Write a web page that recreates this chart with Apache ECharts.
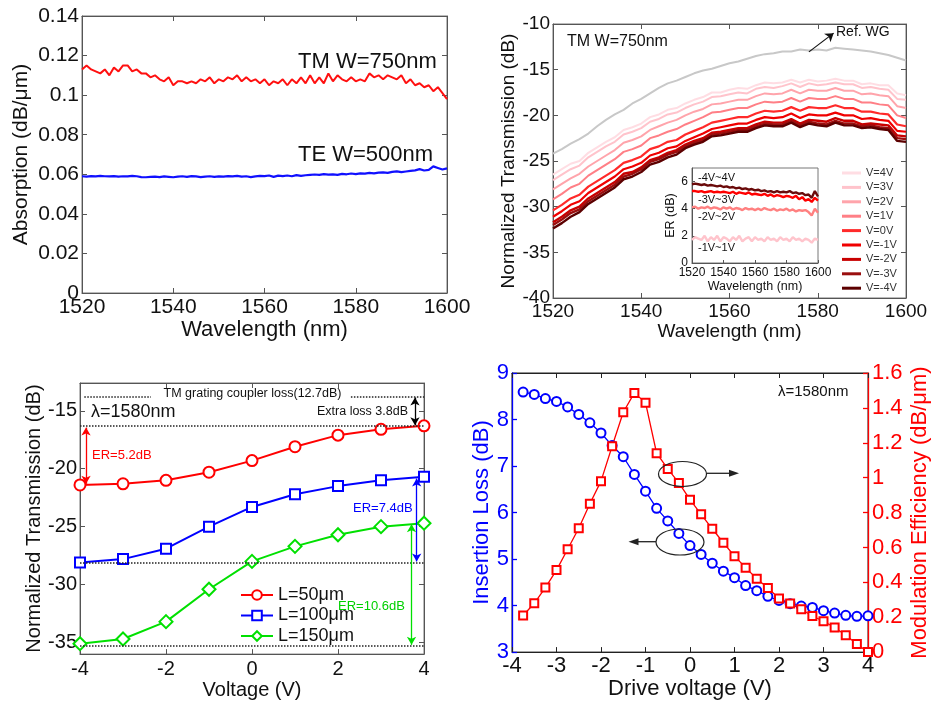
<!DOCTYPE html>
<html><head><meta charset="utf-8">
<script src="https://cdn.jsdelivr.net/npm/echarts@6/dist/echarts.min.js"></script>
<style>html,body{margin:0;padding:0;background:#fff}#c{width:932px;height:701px}</style>
</head><body><div id="c"></div>
<script>
const FONT = '"Liberation Sans", Arial, Helvetica, sans-serif';

// ---------- Panel A: absorption ----------
const wlA = [1520,1521,1522,1523,1524,1525,1526,1527,1528,1529,1530,1531,1532,1533,1534,1535,1536,1537,1538,1539,
1540,1541,1542,1543,1544,1545,1546,1547,1548,1549,1550,1551,1552,1553,1554,1555,1556,1557,1558,1559,
1560,1561,1562,1563,1564,1565,1566,1567,1568,1569,1570,1571,1572,1573,1574,1575,1576,1577,1578,1579,
1580,1581,1582,1583,1584,1585,1586,1587,1588,1589,1590,1591,1592,1593,1594,1595,1596,1597,1598,1599,1600];
const absTM = [0.113,0.115,0.113,0.112,0.111,0.113,0.110,0.114,0.112,0.115,
0.115,0.112,0.113,0.111,0.111,0.109,0.110,0.108,0.107,0.109,
0.105,0.107,0.107,0.106,0.107,0.106,0.108,0.107,0.109,0.106,
0.108,0.107,0.109,0.108,0.110,0.107,0.109,0.107,0.108,0.106,
0.108,0.105,0.107,0.106,0.108,0.105,0.108,0.106,0.109,0.106,
0.110,0.106,0.109,0.106,0.111,0.107,0.110,0.108,0.107,0.109,
0.107,0.108,0.107,0.111,0.109,0.110,0.108,0.110,0.109,0.108,
0.110,0.106,0.108,0.105,0.106,0.104,0.105,0.102,0.104,0.101,0.098];
const absTE = [0.0590,0.0588,0.0591,0.0589,0.0592,0.0590,0.0589,0.0591,0.0588,0.0590,
0.0589,0.0592,0.0590,0.0586,0.0585,0.0587,0.0588,0.0586,0.0589,0.0587,
0.0585,0.0588,0.0590,0.0587,0.0591,0.0589,0.0586,0.0588,0.0590,0.0587,
0.0589,0.0588,0.0591,0.0589,0.0592,0.0588,0.0590,0.0586,0.0589,0.0592,
0.0591,0.0594,0.0587,0.0593,0.0591,0.0594,0.0590,0.0596,0.0592,0.0595,
0.0597,0.0599,0.0597,0.0601,0.0598,0.0600,0.0597,0.0602,0.0600,0.0604,
0.0601,0.0605,0.0603,0.0607,0.0605,0.0608,0.0610,0.0607,0.0612,0.0615,
0.0611,0.0614,0.0617,0.0620,0.0626,0.0619,0.0622,0.0640,0.0632,0.0624,0.0630];

// ---------- Panel B: transmission vs wavelength ----------
const wlB = [1520,1522,1524,1526,1528,1530,1532,1534,1536,1538,1540,1542,1544,1546,1548,1550,1552,1554,1556,1558,
1560,1562,1564,1566,1568,1570,1572,1574,1576,1578,1580,1582,1584,1586,1588,1590,1592,1594,1596,1598,1600];
const refWG = [-24.2,-23.7,-23.1,-22.6,-22.0,-21.2,-20.5,-19.9,-19.4,-18.7,-18.2,-17.6,-17.0,-16.5,-16.2,-15.8,-15.4,-15.1,-14.9,-14.6,
-14.3,-14.1,-13.8,-13.5,-13.3,-13.2,-13.0,-13.0,-12.8,-12.9,-12.8,-12.9,-12.6,-12.7,-12.8,-12.9,-13.0,-13.2,-13.4,-13.7,-14.0];
const tV4 = [-26.5,-25.9,-25.3,-25.0,-24.1,-23.5,-22.9,-22.4,-21.6,-21.3,-20.9,-20.2,-19.9,-19.4,-19.2,-18.7,-18.3,-18.0,-17.5,-17.5,
-17.2,-17.0,-17.1,-16.7,-16.4,-16.5,-16.4,-16.1,-16.4,-16.1,-16.3,-16.2,-16.0,-16.2,-16.2,-16.6,-16.5,-16.7,-16.7,-17.6,-17.8];
const tV3 = [-27.1,-26.5,-25.9,-25.5,-24.6,-24.0,-23.4,-22.9,-22.1,-21.8,-21.4,-20.7,-20.4,-19.9,-19.7,-19.2,-18.8,-18.5,-18.0,-17.9,
-17.7,-17.5,-17.6,-17.1,-16.9,-17.0,-16.8,-16.5,-16.9,-16.5,-16.7,-16.6,-16.4,-16.6,-16.6,-17.0,-16.9,-17.1,-17.2,-18.2,-18.3];
const tV2 = [-28.1,-27.5,-26.9,-26.4,-25.6,-25.0,-24.4,-23.8,-23.0,-22.7,-22.3,-21.6,-21.2,-20.8,-20.5,-20.0,-19.6,-19.3,-18.8,-18.7,
-18.5,-18.3,-18.3,-17.9,-17.6,-17.7,-17.6,-17.2,-17.6,-17.2,-17.3,-17.3,-17.0,-17.3,-17.3,-17.7,-17.6,-17.8,-17.9,-19.0,-19.2];
const tV1 = [-29.2,-28.6,-27.9,-27.5,-26.6,-26.0,-25.4,-24.8,-24.0,-23.7,-23.3,-22.5,-22.2,-21.8,-21.5,-21.0,-20.6,-20.2,-19.7,-19.6,
-19.4,-19.2,-19.2,-18.8,-18.5,-18.6,-18.5,-18.1,-18.5,-18.1,-18.2,-18.2,-17.9,-18.2,-18.2,-18.6,-18.6,-18.8,-18.9,-20.0,-20.3];
const tV0 = [-30.4,-29.8,-29.1,-28.7,-27.8,-27.2,-26.6,-26.0,-25.2,-24.9,-24.5,-23.7,-23.4,-22.9,-22.7,-22.1,-21.7,-21.3,-20.8,-20.6,
-20.4,-20.2,-20.2,-19.8,-19.5,-19.6,-19.5,-19.1,-19.5,-19.1,-19.2,-19.2,-18.9,-19.2,-19.2,-19.6,-19.6,-19.8,-19.9,-21.0,-21.2];
const tVm1 = [-31.1,-30.5,-29.8,-29.4,-28.5,-27.9,-27.3,-26.7,-25.9,-25.6,-25.2,-24.4,-24.1,-23.6,-23.4,-22.8,-22.4,-22.0,-21.5,-21.3,
-21.1,-20.9,-20.9,-20.5,-20.2,-20.3,-20.2,-19.8,-20.3,-19.9,-20.0,-20.0,-19.7,-20.0,-20.0,-20.4,-20.3,-20.5,-20.6,-21.7,-21.8];
const tVm2 = [-31.7,-31.1,-30.4,-30.0,-29.1,-28.5,-27.9,-27.3,-26.4,-26.2,-25.7,-24.9,-24.6,-24.1,-23.8,-23.2,-22.8,-22.5,-21.9,-21.8,
-21.6,-21.4,-21.4,-21.0,-20.7,-20.8,-20.8,-20.4,-20.9,-20.5,-20.6,-20.7,-20.3,-20.6,-20.6,-21.0,-20.9,-21.0,-21.1,-22.2,-22.3];
const tVm3 = [-32.0,-31.4,-30.7,-30.3,-29.4,-28.8,-28.2,-27.6,-26.7,-26.4,-25.9,-25.1,-24.8,-24.3,-24.0,-23.4,-23.0,-22.7,-22.1,-22.0,
-21.8,-21.6,-21.6,-21.2,-20.9,-21.0,-21.0,-20.6,-21.1,-20.7,-20.9,-21.0,-20.6,-20.9,-20.9,-21.2,-21.1,-21.3,-21.4,-22.5,-22.6];
const tVm4 = [-32.4,-31.8,-31.1,-30.6,-29.7,-29.1,-28.5,-27.9,-27.0,-26.7,-26.2,-25.4,-25.1,-24.6,-24.3,-23.6,-23.2,-22.9,-22.3,-22.2,
-22.0,-21.8,-21.8,-21.4,-21.1,-21.2,-21.2,-20.8,-21.3,-20.9,-21.1,-21.2,-20.8,-21.1,-21.1,-21.4,-21.3,-21.5,-21.6,-22.8,-22.9];
const voltLabels = ['V=4V','V=3V','V=2V','V=1V','V=0V','V=-1V','V=-2V','V=-3V','V=-4V'];

// inset: extinction ratio
const erLabels = ['-4V~4V','-3V~3V','-2V~2V','-1V~1V'];
const er4 = [5.8,5.85,5.8,5.75,5.8,5.7,5.75,5.7,5.65,5.7,5.6,5.65,5.55,5.6,5.5,5.55,5.45,5.5,5.4,5.45,5.35,
5.4,5.3,5.35,5.25,5.3,5.2,5.3,5.2,5.25,5.2,5.3,5.15,5.2,5.1,5.15,5.0,5.05,4.8,5.3,4.9];
const er3 = [5.3,5.3,5.25,5.3,5.2,5.25,5.3,5.2,5.25,5.2,5.25,5.2,5.15,5.25,5.1,5.2,5.15,5.1,5.2,5.05,5.1,
5.05,5.0,5.1,4.95,5.05,4.9,5.0,4.95,4.85,4.95,4.9,4.8,4.95,4.7,4.85,4.6,4.7,4.5,4.8,4.6];
const er2 = [4.1,4.15,4.0,4.1,4.05,4.15,4.0,4.1,4.05,3.95,4.1,4.0,4.1,3.95,4.05,4.0,3.9,4.05,3.95,4.0,3.9,
4.0,3.9,4.05,3.95,3.9,4.0,3.85,3.95,3.9,4.0,3.85,3.95,3.8,3.9,3.85,3.9,3.75,3.5,4.0,3.7];
const er1 = [1.7,1.9,1.8,1.7,2.0,1.6,1.9,1.7,2.0,1.6,1.9,1.8,1.6,1.9,1.7,2.0,1.6,1.8,1.9,1.6,1.9,
1.7,1.8,1.6,1.9,1.7,1.8,1.6,1.9,1.7,1.8,1.6,1.9,1.7,1.8,1.6,1.8,1.7,1.5,1.8,1.7];

// ---------- Panel C: transmission vs voltage ----------
const voltC = [-4,-3,-2,-1,0,1,2,3,4];
const tL50  = [-21.4,-21.3,-21.0,-20.3,-19.3,-18.1,-17.1,-16.6,-16.3];
const tL100 = [-28.1,-27.8,-26.9,-25.0,-23.3,-22.2,-21.5,-21.0,-20.7];
const tL150 = [-35.1,-34.7,-33.2,-30.4,-28.0,-26.7,-25.7,-25.0,-24.7];
const lenLabels = ['L=50\u03bcm','L=100\u03bcm','L=150\u03bcm'];
const yTicksC = [-35,-30,-25,-20,-15];

// ---------- Panel D: insertion loss & modulation efficiency ----------
const voltD = [-3.75,-3.5,-3.25,-3,-2.75,-2.5,-2.25,-2,-1.75,-1.5,-1.25,-1,-0.75,-0.5,-0.25,0,
0.25,0.5,0.75,1,1.25,1.5,1.75,2,2.25,2.5,2.75,3,3.25,3.5,3.75,4];
const insLoss = [8.59,8.54,8.45,8.39,8.27,8.11,7.93,7.71,7.44,7.20,6.82,6.46,6.09,5.82,5.55,5.29,
5.10,4.91,4.74,4.60,4.43,4.32,4.20,4.11,4.04,3.99,3.96,3.89,3.84,3.79,3.77,3.78];
const modEff = [0.21,0.28,0.37,0.47,0.59,0.71,0.85,0.98,1.18,1.375,1.486,1.43,1.14,1.05,0.97,0.874,
0.79,0.707,0.627,0.55,0.484,0.421,0.367,0.307,0.278,0.246,0.207,0.177,0.141,0.097,0.046,0.0];

// ---------- helpers ----------
const zip = (xs, ys) => xs.map((x, i) => [x, ys[i]]);
function ax(o) {
  const lc = o.lc || '#555';
  const a = {
    type: 'value', gridIndex: o.g, position: o.pos, min: o.min, max: o.max,
    axisLine: {show: true, onZero: false, lineStyle: {color: lc, width: o.lw || 1}},
    axisTick: {show: true, inside: true, length: o.tl || 5, lineStyle: {color: lc, width: o.lw || 1}},
    axisLabel: {show: !!o.fs, fontSize: o.fs || 10, color: o.tc || '#111', margin: o.m || 4, fontFamily: FONT,
      formatter: v => String(v)},
    splitLine: {show: false},
    name: o.name || '', nameLocation: 'middle', nameGap: o.ng || 20,
    nameTextStyle: {fontSize: o.nfs || 12, color: o.tc || '#111', fontFamily: FONT}
  };
  if (o.iv != null) a.interval = o.iv;
  if (o.cv) { a.axisLabel.customValues = o.cv; a.axisTick.customValues = o.cv; }
  if (o.smax === false) a.axisLabel.showMaxLabel = false;
  if (o.z != null) a.z = o.z;
  return a;
}

const xAxis = [
  ax({g:0, pos:'bottom', min:1520, max:1600, iv:20, fs:21, m:4, name:'Wavelength (nm)', ng:23, nfs:22}),
  ax({g:0, pos:'top', min:1520, max:1600, iv:20}),
  ax({g:1, pos:'bottom', min:1520, max:1600, iv:20, fs:19, m:4, name:'Wavelength (nm)', ng:20, nfs:19}),
  ax({g:1, pos:'top', min:1520, max:1600, iv:20}),
  ax({g:2, pos:'bottom', min:1520, max:1600, iv:20, fs:12, m:4, name:'Wavelength (nm)', ng:16, nfs:12.5, tl:3, z:11}),
  ax({g:3, pos:'bottom', min:-4, max:4, iv:2, fs:20, m:5, name:'Voltage (V)', ng:24, nfs:20}),
  ax({g:3, pos:'top', min:-4, max:4, iv:2}),
  ax({g:4, pos:'bottom', min:-4, max:4, iv:1, fs:22, m:3, name:'Drive voltage (V)', ng:23, nfs:22, lc:'#222'}),
  ax({g:4, pos:'top', min:-4, max:4, iv:1, lc:'#222', tl:0})
];
const yAxis = [
  ax({g:0, pos:'left', min:0, max:0.14, iv:0.02, fs:21, m:3, name:'Absorption (dB/\u03bcm)', ng:50, nfs:21}),
  ax({g:0, pos:'right', min:0, max:0.14, iv:0.02}),
  ax({g:1, pos:'left', min:-40, max:-10, iv:5, fs:19, m:3, name:'Normalized Transmission (dB)', ng:34, nfs:19}),
  ax({g:1, pos:'right', min:-40, max:-10, iv:5}),
  ax({g:2, pos:'left', min:0, max:7, iv:2, fs:12, m:4, name:'ER (dB)', ng:15, nfs:12.5, tl:3, smax:false, z:11}),
  ax({g:3, pos:'left', min:-36, max:-12.6, cv:yTicksC, fs:20, m:3, name:'Normalized Transmission (dB)', ng:36, nfs:20}),
  ax({g:3, pos:'right', min:-36, max:-12.6, cv:yTicksC}),
  ax({g:4, pos:'left', min:3, max:9, iv:1, fs:22, m:3, name:'Insertion Loss (dB)', ng:19, nfs:22, lc:'#0000ff', tc:'#0000ff', lw:1.3}),
  ax({g:4, pos:'right', min:0, max:1.6, iv:0.2, fs:22, m:4, name:'Modulation Efficiency (dB/\u03bcm)', ng:41, nfs:22, lc:'#ff0000', tc:'#ff0000', lw:1.3})
];

const series = [];
// Panel A
series.push({type:'line', name:'TM W=750nm', xAxisIndex:0, yAxisIndex:0, data:zip(wlA, absTM), symbol:'none',
  lineStyle:{color:'#ff1010', width:2}, itemStyle:{color:'#ff1010'}});
series.push({type:'line', name:'TE W=500nm', xAxisIndex:0, yAxisIndex:0, data:zip(wlA, absTE), symbol:'none',
  lineStyle:{color:'#1010ff', width:2.2}, itemStyle:{color:'#1010ff'}});

// Panel B
series.push({type:'line', name:'Ref. WG', xAxisIndex:2, yAxisIndex:2, data:zip(wlB, refWG), symbol:'none',
  lineStyle:{color:'#c8c8c8', width:2}, itemStyle:{color:'#c8c8c8'},
  markLine:{silent:true, animation:false, symbol:'none', symbolSize:8, label:{show:false},
    lineStyle:{type:'solid', color:'#111', width:1.2},
    data:[[{coord:[1578,-13.05], symbol:'none'},{coord:[1583.6,-11.0], symbol:'arrow'}]]}});
const transB = [tV4, tV3, tV2, tV1, tV0, tVm1, tVm2, tVm3, tVm4];
const colorsB = ['#ffdde3','#ffc3cb','#ffa4ab','#ff7f86','#ff2a2a','#f00000','#c80000','#9a0e0e','#5c0000'];
const widthsB = [2,2,2,2,2.2,2.2,2.4,2.4,2.4];
transB.forEach((arr, i) => {
  series.push({type:'line', name:voltLabels[i], xAxisIndex:2, yAxisIndex:2, data:zip(wlB, arr), symbol:'none',
    lineStyle:{color:colorsB[i], width:widthsB[i]}, itemStyle:{color:colorsB[i]}});
});
// Inset
const erArr = [er4, er3, er2, er1];
const erColors = ['#6a0a0a','#ff0000','#ff8080','#ffc4cc'];
erArr.forEach((arr, i) => {
  series.push({type:'line', name:erLabels[i], xAxisIndex:4, yAxisIndex:4, data:zip(wlB, arr), symbol:'none', z:12,
    lineStyle:{color:erColors[i], width:2.4}, itemStyle:{color:erColors[i]}});
});

// Panel C
const dot = {type:'dotted', color:'#222', width:1.5};
function dbl(x, y1, y2, color) {
  const ls = {type:'solid', color:color, width:1.3};
  return [{coord:[x, y1], symbol:'arrow', lineStyle:ls}, {coord:[x, y2], symbol:'arrow', lineStyle:ls}];
}
series.push({type:'line', name:lenLabels[0], xAxisIndex:5, yAxisIndex:5, data:zip(voltC, tL50),
  symbol:'emptyCircle', symbolSize:11, lineStyle:{color:'#ff0000', width:2}, itemStyle:{color:'#ff0000', borderWidth:2},
  markLine:{silent:true, animation:false, symbol:'none', symbolSize:[7,8], label:{show:false}, lineStyle:dot,
    data:[
      {yAxis:-16.3, lineStyle:dot}, {yAxis:-28.1, lineStyle:dot}, {yAxis:-35.3, lineStyle:dot},
      [{coord:[-3.9,-13.8], lineStyle:dot},{coord:[-2.35,-13.8], lineStyle:dot}],
      [{coord:[2.3,-13.8], lineStyle:dot},{coord:[4,-13.8], lineStyle:dot}],
      dbl(3.79, -13.85, -16.25, '#000'),
      dbl(-3.86, -16.45, -21.3, '#ff0000')
    ]}});
series.push({type:'line', name:lenLabels[1], xAxisIndex:5, yAxisIndex:5, data:zip(voltC, tL100),
  symbol:'emptyRect', symbolSize:10, lineStyle:{color:'#0000ff', width:2}, itemStyle:{color:'#0000ff', borderWidth:2},
  markLine:{silent:true, animation:false, symbol:'none', symbolSize:[7,8], label:{show:false},
    data:[dbl(3.83, -20.85, -28.0, '#0000ff')]}});
series.push({type:'line', name:lenLabels[2], xAxisIndex:5, yAxisIndex:5, data:zip(voltC, tL150),
  symbol:'emptyDiamond', symbolSize:13, lineStyle:{color:'#00e000', width:2}, itemStyle:{color:'#00e000', borderWidth:2},
  markLine:{silent:true, animation:false, symbol:'none', symbolSize:[7,8], label:{show:false},
    data:[dbl(3.71, -24.8, -35.2, '#00e000')]}});

// Panel D
series.push({type:'line', name:'Insertion Loss', xAxisIndex:7, yAxisIndex:7, data:zip(voltD, insLoss),
  symbol:'emptyCircle', symbolSize:9, lineStyle:{color:'#0000ff', width:1.3}, itemStyle:{color:'#0000ff', borderWidth:1.3}});
series.push({type:'line', name:'Modulation Efficiency', xAxisIndex:7, yAxisIndex:8, data:zip(voltD, modEff),
  symbol:'emptyRect', symbolSize:8, lineStyle:{color:'#ff0000', width:1.3}, itemStyle:{color:'#ff0000', borderWidth:1.3}});

function txt(x, y, s, size, color, align) {
  return {type:'text', x:x, y:y, z:100, style:{text:s, font:size + 'px ' + FONT, fill:color || '#111',
    align:align || 'left', verticalAlign:'middle'}};
}

const graphic = [
  // Panel A
  txt(298, 62, 'TM W=750nm', 22, '#111'),
  txt(298, 155, 'TE W=500nm', 22, '#111'),
  // Panel B
  txt(567, 42, 'TM W=750nm', 16, '#111'),
  txt(836, 32, 'Ref. WG', 14, '#111'),
  txt(698, 178, '-4V~4V', 11, '#111'),
  txt(698, 200, '-3V~3V', 11, '#111'),
  txt(698, 217, '-2V~2V', 11, '#111'),
  txt(698, 248, '-1V~1V', 11, '#111'),
  // Panel C
  txt(252.5, 394, 'TM grating coupler loss(12.7dB)', 12.5, '#111', 'center'),
  txt(91, 412, '\u03bb=1580nm', 18, '#111'),
  txt(408, 412, 'Extra loss 3.8dB', 12.5, '#111', 'right'),
  txt(92, 455, 'ER=5.2dB', 13, '#ff0000'),
  txt(353, 508, 'ER=7.4dB', 13, '#0000ff'),
  txt(338, 606, 'ER=10.6dB', 13, '#00d000'),
  // Panel D
  txt(778, 392, '\u03bb=1580nm', 15, '#111'),
  {type:'ellipse', z:100, shape:{cx:682.5, cy:474, rx:24, ry:12.5}, style:{fill:null, stroke:'#222', lineWidth:1.2}},
  {type:'line', z:100, shape:{x1:706.7, y1:473.3, x2:731, y2:473.3}, style:{stroke:'#222', lineWidth:1.3}},
  {type:'polygon', z:100, shape:{points:[[739,473.3],[729,469.8],[729,476.8]]}, style:{fill:'#222'}},
  {type:'ellipse', z:100, shape:{cx:680, cy:542, rx:24, ry:13}, style:{fill:null, stroke:'#222', lineWidth:1.2}},
  {type:'line', z:100, shape:{x1:656, y1:541.7, x2:636, y2:541.7}, style:{stroke:'#222', lineWidth:1.3}},
  {type:'polygon', z:100, shape:{points:[[628.5,541.7],[638.5,538.2],[638.5,545.2]]}, style:{fill:'#222'}}
];

const option = {
  animation: false,
  backgroundColor: '#fff',
  textStyle: {fontFamily: FONT},
  grid: [
    {left:82, top:16, width:365, height:277, show:true, borderColor:'#777', borderWidth:1},
    {left:553, top:24, width:353, height:274, show:true, borderColor:'#777', borderWidth:1},
    {left:692, top:168, width:126, height:95, show:true, borderColor:'#777', borderWidth:1, backgroundColor:'#fff', z:10},
    {left:80, top:383, width:344, height:272, show:true, borderColor:'#777', borderWidth:1},
    {left:512, top:373, width:357, height:280, show:true, borderColor:'#222', borderWidth:1}
  ],
  xAxis: xAxis,
  yAxis: yAxis,
  legend: [
    {data:voltLabels, orient:'vertical', left:842, top:167, icon:'rect', itemWidth:19, itemHeight:3, itemGap:2.4, padding:0,
      selectedMode:false, textStyle:{fontSize:11, lineHeight:12, color:'#333', fontFamily:FONT}},
    {data:lenLabels, orient:'vertical', left:240, top:586, itemWidth:32, itemHeight:12, itemGap:2.5, padding:0,
      selectedMode:false, textStyle:{fontSize:18, lineHeight:18, color:'#111', fontFamily:FONT}}
  ],
  series: series,
  graphic: {elements: graphic}
};

const chart = echarts.init(document.getElementById('c'), null, {renderer:'canvas'});
chart.setOption(option);
</script>
</body></html>
